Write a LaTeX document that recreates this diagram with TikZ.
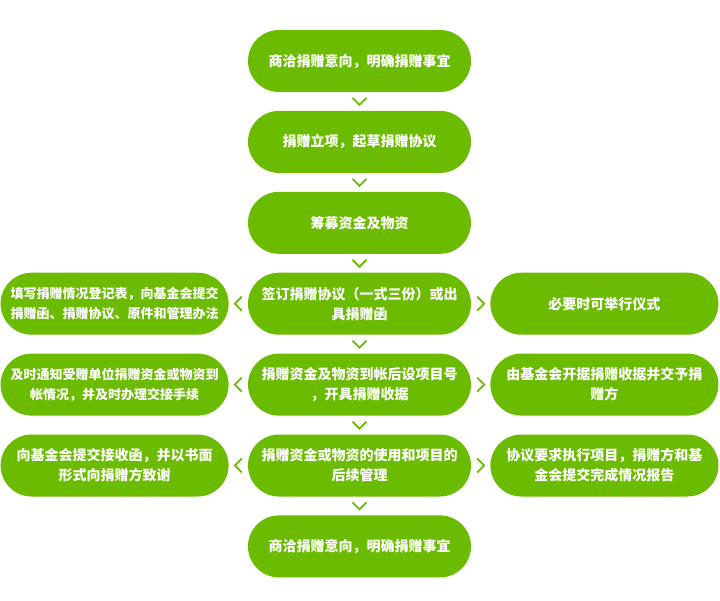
\documentclass[tikz,border=0pt]{standalone}
\usepackage{fontspec}
\newfontfamily\cjk{Noto Sans CJK SC}
\usepackage{tikz}
\usetikzlibrary{positioning,calc}
\definecolor{leaf}{HTML}{6BBB00}

\begin{document}
\begin{tikzpicture}[font=\cjk\bfseries\fontsize{14pt}{20pt}\selectfont, text=white,
	flow/.style={fill=leaf, rounded corners=31pt, minimum width=223pt, minimum height=62pt, align=center, inner sep=0pt},
	side/.style={flow, minimum width=228pt},
	small/.style={font=\cjk\bfseries\fontsize{13pt}{20pt}\selectfont},
	chev/.style={draw=leaf, line width=1.8pt}]
		\useasboundingbox (0,0) rectangle (720pt,-600pt);
		\node[flow] (s1) at (359.5pt,-61pt) {商洽捐赠意向，明确捐赠事宜};
		\node[flow, below=18.5pt of s1] (s2) {捐赠立项，起草捐赠协议};
		\node[flow, below=18.5pt of s2] (s3) {筹募资金及物资};
		\node[flow, below=18.5pt of s3] (s4) {签订捐赠协议（一式三份）或出\\具捐赠函};
		\node[flow, below=18.5pt of s4] (s5) {捐赠资金及物资到帐后设项目号\\，开具捐赠收据};
		\node[flow, below=18.5pt of s5] (s6) {捐赠资金或物资的使用和项目的\\后续管理};
		\node[flow, below=18.5pt of s6] (s7) {商洽捐赠意向，明确捐赠事宜};
		% left column
		\node[side, small, left=19pt of s4] (l4) {填写捐赠情况登记表，向基金会提交\\捐赠函、捐赠协议、原件和管理办法};
		\node[side, small, left=19pt of s5] (l5) {及时通知受赠单位捐赠资金或物资到\\帐情况，并及时办理交接手续};
		\node[side, left=19pt of s6] (l6) {向基金会提交接收函，并以书面\\形式向捐赠方致谢};
		% right column
		\node[side, right=19pt of s4] (r4) {必要时可举行仪式};
		\node[side, right=19pt of s5] (r5) {由基金会开据捐赠收据并交予捐\\赠方};
		\node[side, right=19pt of s6] (r6) {协议要求执行项目，捐赠方和基\\金会提交完成情况报告};
		% chevrons
		\foreach \a/\b in {s1/s2,s2/s3,s3/s4,s4/s5,s5/s6,s6/s7}
			\draw[chev] ($(\a.south)!0.5!(\b.north)$) ++(-7pt,3.5pt) -- ++(7pt,-7pt) -- ++(7pt,7pt);
		\foreach \r in {4,5,6} {
			\draw[chev] ($(s\r.west)!0.5!(l\r.east)$) ++(3.5pt,7pt) -- ++(-7pt,-7pt) -- ++(7pt,-7pt);
			\draw[chev] ($(s\r.east)!0.5!(r\r.west)$) ++(-3.5pt,7pt) -- ++(7pt,-7pt) -- ++(-7pt,-7pt);
		}
	\end{tikzpicture}
\end{document}
